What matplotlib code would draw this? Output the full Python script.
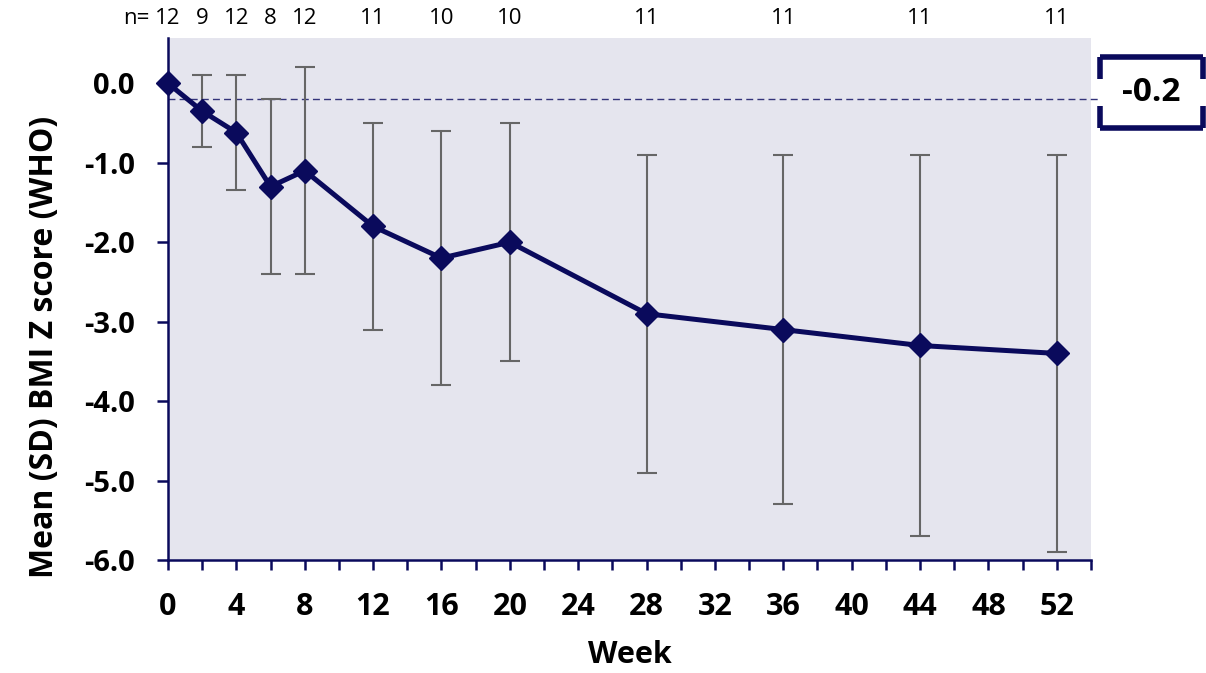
import matplotlib
matplotlib.use("Agg")
import matplotlib.pyplot as plt
from matplotlib.lines import Line2D
import numpy as np

# data
weeks = [0, 2, 4, 6, 8, 12, 16, 20, 28, 36, 44, 52]
mean_z = [0.0, -0.35, -0.62, -1.3, -1.1, -1.8, -2.2, -2.0, -2.9, -3.1, -3.3, -3.4]
sd_z = [0.0, 0.45, 0.72, 1.1, 1.3, 1.3, 1.6, 1.5, 2.0, 2.2, 2.4, 2.5]
n_counts = [12, 9, 12, 8, 12, 11, 10, 10, 11, 11, 11, 11]
ref_line = -0.2

navy = "#0A0A5C"
plt.rcParams['font.family'] = ['Open Sans', 'DejaVu Sans']

fig = plt.figure(figsize=(12.06, 6.73), dpi=100)
ax = fig.add_axes([0.1393, 0.1679, 0.9046 - 0.1393, 0.9435 - 0.1679])
ax.set_facecolor("#E5E5EE")

# error bars (skip the zero-SD baseline)
err_w = [w for w, s in zip(weeks, sd_z) if s > 0]
err_m = [m for m, s in zip(mean_z, sd_z) if s > 0]
err_s = [s for s in sd_z if s > 0]
ax.errorbar(err_w, err_m, yerr=err_s, fmt="none", ecolor="#666666",
            elinewidth=1.5, capsize=7, capthick=1.5, zorder=2)

ax.axhline(ref_line, color="#34347A", lw=1.0, ls=(0, (5, 3)), zorder=1, clip_on=False,
           xmax=1.01)
ax.plot(weeks, mean_z, color=navy, lw=3.6, marker="D", ms=12,
        markerfacecolor=navy, markeredgecolor=navy, zorder=3, clip_on=False)

ax.set_xlim(0, 54)
ax.set_ylim(-6, 0.57)
ax.set_xticks(np.arange(0, 53, 4))
ax.set_xticks(np.arange(0, 55, 2), minor=True)
ax.set_yticks(np.arange(-6, 0.5, 1))
ax.set_yticklabels([f"{v:.1f}" for v in np.arange(-6, 0.5, 1)])

for s in ["top", "right"]:
    ax.spines[s].set_visible(False)
for s in ["left", "bottom"]:
    ax.spines[s].set_color(navy)
    ax.spines[s].set_linewidth(1.8)

ax.tick_params(axis="x", which="both", direction="out", length=7, width=1.8,
               color=navy, labelsize=22, pad=16)
ax.tick_params(axis="y", direction="out", length=8, width=1.8, color=navy,
               labelsize=21, pad=16)
for lab in ax.get_xticklabels() + ax.get_yticklabels():
    lab.set_fontweight("bold")

ax.set_xlabel("Week", fontsize=22, fontweight="bold", labelpad=13)
ax.set_ylabel("Mean (SD) BMI Z score (WHO)", fontsize=23, fontweight="bold")
ax.yaxis.set_label_coords(-0.116, 0.408)

# n counts above the plot
for w, n in zip(weeks, n_counts):
    ax.annotate(str(n), xy=(w, 1), xycoords=("data", "axes fraction"),
                xytext=(0, 14), textcoords="offset points",
                ha="center", va="center", fontsize=16)
ax.annotate("n=", xy=(0, 1), xycoords=("data", "axes fraction"),
            xytext=(-13, 14), textcoords="offset points",
            ha="right", va="center", fontsize=16)

# bracketed reference value box on the right
bx0, bx1 = 1100 / 1206, 1203 / 1206
by_top, by_bot = 1 - 57 / 673, 1 - 128 / 673
stub = 22 / 673
bk = dict(color=navy, lw=4, solid_capstyle="butt", transform=fig.transFigure)
fig.add_artist(Line2D([bx0, bx1], [by_top, by_top], **bk))
fig.add_artist(Line2D([bx0, bx1], [by_bot, by_bot], **bk))
for x in (bx0, bx1):
    fig.add_artist(Line2D([x, x], [by_top, by_top - stub], **bk))
    fig.add_artist(Line2D([x, x], [by_bot, by_bot + stub], **bk))
fig.text((bx0 + bx1) / 2, (by_top + by_bot) / 2, f"{ref_line:.1f}",
         ha="center", va="center", fontsize=24, fontweight="bold")

fig.savefig("out.png", dpi=100)
